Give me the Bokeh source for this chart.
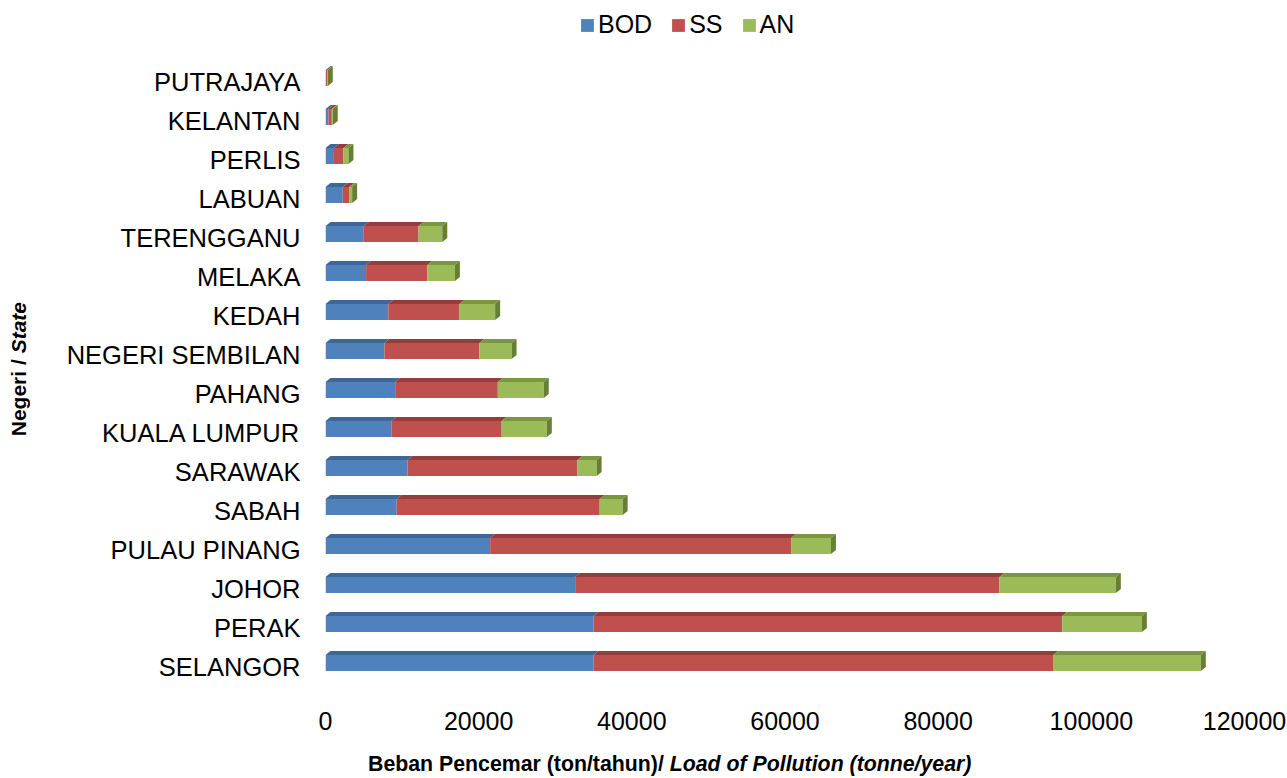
import numpy as np
from bokeh.plotting import figure
from bokeh.layouts import row, column
from bokeh.models import (Range1d, FixedTicker, NumeralTickFormatter, Legend,
                          LegendItem, ColumnDataSource, Div)
from bokeh.embed import file_html
from bokeh.resources import INLINE

# ---------------- data ----------------
states = ["SELANGOR", "PERAK", "JOHOR", "PULAU PINANG", "SABAH", "SARAWAK",
          "KUALA LUMPUR", "PAHANG", "NEGERI SEMBILAN", "KEDAH", "MELAKA",
          "TERENGGANU", "LABUAN", "PERLIS", "KELANTAN", "PUTRAJAYA"]
bod = [35000, 35000, 32600, 21500, 9300, 10700, 8600, 9100, 7700, 8200, 5300,
       5000, 2250, 1100, 390, 60]
ss = [60000, 61200, 55400, 39300, 26500, 22200, 14400, 13400, 12400, 9300, 8000,
      7150, 830, 1250, 430, 180]
an = [19300, 10400, 15200, 5200, 3000, 2500, 5900, 6000, 4200, 4650, 3600,
      3100, 400, 650, 130, 60]
series_names = ["BOD", "SS", "AN"]
x_ticks = [0, 20000, 40000, 60000, 80000, 100000, 120000]
x_title_bold = "Beban Pencemar (ton/tahun)/"
x_title_italic = "Load of Pollution (tonne/year)"
y_title_bold = "Negeri /"
y_title_italic = "State"

# ---------------- style ----------------
front_cols = ["#4F81BD", "#C0504D", "#9BBB59"]
top_cols = ["#3D6796", "#933E3C", "#7A9640"]
side_col = "#667F33"
FONT = "Liberation Sans"
BAR_H = 0.41
BAR_OFF = 0.09
DX = 650      # depth in x data units
DY = 0.10     # depth in category units

FIG_W, FIG_H = 1246, 745
p = figure(width=FIG_W, height=FIG_H, output_backend="svg", toolbar_location=None,
           x_range=Range1d(0, 120000), y_range=Range1d(-0.615, 17.077),
           min_border_left=285, min_border_right=42, min_border_top=0,
           min_border_bottom=55)
p.outline_line_color = None
p.grid.visible = False
p.background_fill_color = "white"
p.border_fill_color = "white"

ypos = np.arange(len(states)) + BAR_OFF
vals = np.array([bod, ss, an], dtype=float)
cum = np.vstack([np.zeros(len(states)), np.cumsum(vals, axis=0)])

renderers = []
for k in range(3):
    left = cum[k]
    right = cum[k + 1]
    src = ColumnDataSource(dict(y=ypos, left=left, right=right))
    r = p.hbar(y="y", left="left", right="right", height=BAR_H, source=src,
               fill_color=front_cols[k], line_color=None)
    renderers.append(r)
    yt = ypos + BAR_H / 2
    xs = [[l, rr, rr + DX, l + DX] for l, rr in zip(left, right)]
    ys = [[t, t, t + DY, t + DY] for t in yt]
    p.patches(xs=xs, ys=ys, fill_color=top_cols[k], line_color=None)

# side face of the whole stack
tot = cum[3]
yb = ypos - BAR_H / 2
yt = ypos + BAR_H / 2
xs = [[r, r + DX, r + DX, r] for r in tot]
ys = [[b, b + DY, t + DY, t] for b, t in zip(yb, yt)]
p.patches(xs=xs, ys=ys, fill_color=side_col, line_color=None)

# axes
p.xaxis.ticker = FixedTicker(ticks=x_ticks)
p.xaxis.formatter = NumeralTickFormatter(format="0")
p.yaxis.ticker = FixedTicker(ticks=list(range(len(states))))
p.yaxis.major_label_overrides = {i: s for i, s in enumerate(states)}
for ax in (p.xaxis, p.yaxis):
    ax.axis_line_color = None
    ax.major_tick_line_color = None
    ax.minor_tick_line_color = None
    ax.major_tick_out = 0
    ax.major_tick_in = 0
    ax.major_label_text_font = FONT
    ax.major_label_text_color = "#000000"
p.xaxis.major_label_text_font_size = "25px"
p.yaxis.major_label_text_font_size = "25.5px"
p.xaxis.major_label_standoff = 21
p.yaxis.major_label_standoff = 25

# legend (inside the frame, at its top)
legend = Legend(items=[LegendItem(label=n, renderers=[r])
                       for n, r in zip(series_names, renderers)],
                orientation="horizontal", location=(254, 651),
                label_text_font=FONT, label_text_font_size="25px",
                label_text_color="#000000", label_standoff=3, spacing=18,
                padding=0, margin=0, border_line_color=None,
                background_fill_alpha=0, glyph_width=16, glyph_height=16,
                label_height=16)
p.add_layout(legend, "center")

# axis titles (mixed bold / bold italic) as HTML text
x_div = Div(width=FIG_W, height=32, margin=0,
            text=('<div style="padding-left:328px;padding-top:9px;'
                  'font-family:\'Liberation Sans\';font-size:21.3px;font-weight:bold;'
                  'line-height:21px;white-space:nowrap;color:#000">'
                  f'{x_title_bold} <i>{x_title_italic}</i></div>'))
y_div = Div(width=40, height=FIG_H + 32, margin=0,
            text=('<div style="margin-left:8px;margin-top:302px;'
                  'writing-mode:vertical-rl;transform:rotate(180deg);'
                  'font-family:\'Liberation Sans\';font-size:21px;font-weight:bold;'
                  'line-height:21px;white-space:nowrap;color:#000">'
                  f'{y_title_bold} <i>{y_title_italic}</i></div>'))

layout = row(y_div, column(p, x_div, spacing=0), spacing=0)

open("out.html", "w").write(file_html(layout, INLINE))
